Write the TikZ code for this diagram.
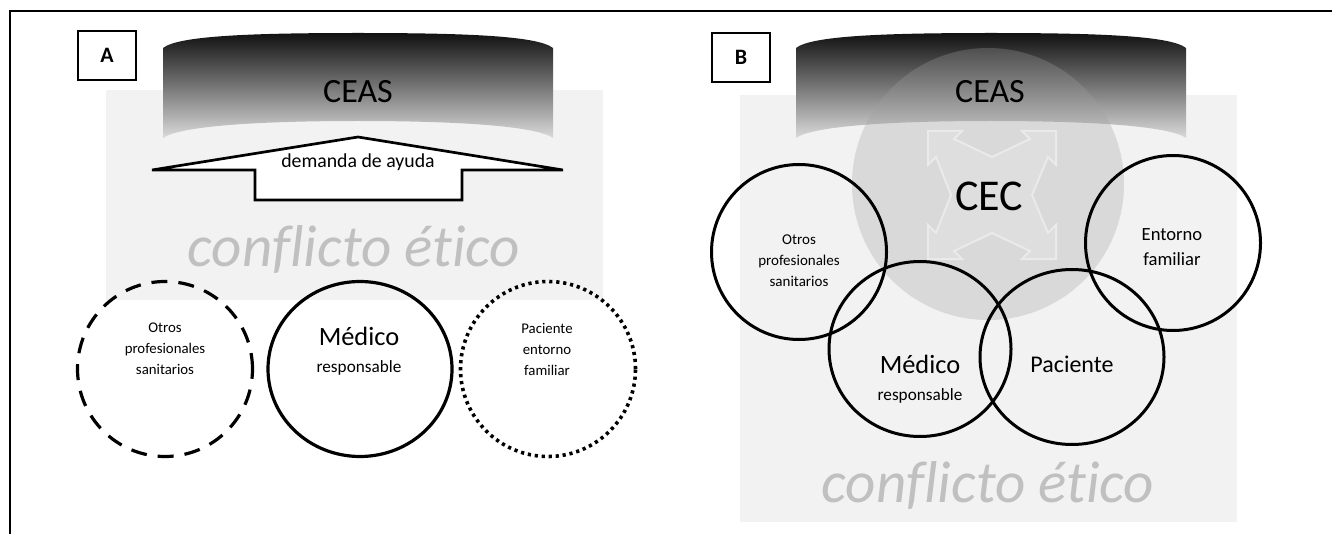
\documentclass[tikz,border=0pt]{standalone}
\usepackage{fontspec}
\setmainfont{Carlito}[Ligatures=NoCommon]
\usetikzlibrary{shapes.geometric}

\definecolor{rectgray}{HTML}{F2F2F2}
\definecolor{ethicgray}{HTML}{C0C0C0}
\definecolor{bandtop}{HTML}{111111}
\definecolor{bandmid}{HTML}{747474}
\definecolor{bandbot}{HTML}{DADADA}
\definecolor{cecgray}{HTML}{A0A0A0}
\definecolor{quadfill}{HTML}{DEDEDE}
\definecolor{quadline}{HTML}{EAEAEA}

\begin{document}
\begin{tikzpicture}[x=0.5pt,y=-0.5pt,
    ring/.style={ellipse,draw,line width=1.5pt,minimum width=87.5pt,minimum height=87.5pt,inner sep=0pt},
    widering/.style={ring,minimum width=92pt},
    panelbox/.style={draw,line width=0.85pt,minimum width=29pt,minimum height=24.5pt,inner sep=0pt,font=\fontsize{11}{13}\selectfont\bfseries},
    ceastxt/.style={font=\fontsize{17}{20}\selectfont},
    ethictxt/.style={anchor=base,text=ethicgray,font=\fontsize{29.5}{34}\selectfont\itshape},
    smalltxt/.style={align=center,font=\fontsize{7.4}{10.5}\selectfont},
    medtxt/.style={font=\fontsize{13.2}{15}\selectfont},
    subtxt/.style={font=\fontsize{8.6}{10}\selectfont}]
    \useasboundingbox (0,0) rectangle (1332,534);
    \draw[line width=0.75pt] (10,534) -- (10,11) -- (1332,11);

    % Background fields %
    \fill[rectgray] (106,90) rectangle (603,300);
    \fill[rectgray] (740,95) rectangle (1237,522);

    % CEAS banners %
    \foreach \cx in {358,991}{
        \shade[top color=bandtop,bottom color=bandbot,middle color=bandmid]
            (\cx-195,48) .. controls (\cx-180,36) and (\cx-110,33) .. (\cx,33)
            .. controls (\cx+110,33) and (\cx+180,36) .. (\cx+195,48) -- (\cx+195,138)
            .. controls (\cx+180,127) and (\cx+110,121) .. (\cx,121)
            .. controls (\cx-110,121) and (\cx-180,127) .. (\cx-195,138) -- cycle;
    }
    \node[panelbox] (boxA) at (107,55.5) {A};
    \node[panelbox] (boxB) at (741,57.5) {B};

    % Panel A %
    \node[ceastxt] (ceasA) at (358,92) {CEAS};
    \draw[line width=1.35pt,fill=white] (358,137) -- (563,170) -- (462,170) -- (462,200)
        -- (255,200) -- (255,170) -- (152,170) -- cycle;
    \node[font=\fontsize{9.9}{12}\selectfont] (demanda) at (358,162) {demanda de ayuda};
    \node[ethictxt] (conflA) at (354,266) {conflicto ético};

    \node[ring,line width=1.6pt,dash pattern=on 8pt off 5.5pt] (otrosA) at (165,369) {};
    \node[widering,line width=1.6pt] (medicoA) at (360,369) {};
    \node[ring,line width=1.8pt,dash pattern=on 1.6pt off 1.9pt] (pacienteA) at (548,369) {};
    \node[smalltxt] (otrosAtxt) at (165,349) {Otros\\profesionales\\sanitarios};
    \node[medtxt] (medicoAtxt) at (359,336) {Médico};
    \node[subtxt] (medicoAsub) at (359,368) {responsable};
    \node[smalltxt] (pacienteAtxt) at (547,349) {Paciente\\entorno\\familiar};

    % Panel B %
    \fill[cecgray,fill opacity=0.3] (988,184) circle[radius=136];
    \node[ceastxt] (ceasB) at (990,92) {CEAS};
    \begin{scope}[shift={(992,195)}]
        \draw[quadline,fill=quadfill,line width=1pt]
            (-64,-64) -- (-30,-64) -- (-38,-56) -- (0,-38) -- (38,-56) -- (30,-64) -- (64,-64)
            -- (64,-30) -- (56,-38) -- (40,0) -- (56,38) -- (64,30) -- (64,64)
            -- (30,64) -- (38,56) -- (0,38) -- (-38,56) -- (-30,64) -- (-64,64)
            -- (-64,30) -- (-56,38) -- (-41,0) -- (-56,-38) -- (-64,-30) -- cycle;
    \end{scope}
    \node[font=\fontsize{22}{26}\selectfont] (cec) at (989,196) {CEC};
    \node[ethictxt] (conflB) at (988,502) {conflicto ético};

    \node[ring] (otrosB) at (799,252) {};
    \node[widering,minimum width=91pt] (medicoB) at (920,349) {};
    \node[widering] (pacienteB) at (1072,357) {};
    \node[ring] (entornoB) at (1173,243) {};
    \node[smalltxt,font=\fontsize{7.5}{10.5}\selectfont] (otrosBtxt) at (799,261) {Otros\\profesionales\\sanitarios};
    \node[medtxt] (medicoBtxt) at (920,364) {Médico};
    \node[subtxt] (medicoBsub) at (920,396) {responsable};
    \node[font=\fontsize{12}{14}\selectfont] (pacienteBtxt) at (1072,364) {Paciente};
    \node[align=center,font=\fontsize{9.3}{12.5}\selectfont] (entornoBtxt) at (1172,247) {Entorno\\familiar};
\end{tikzpicture}
\end{document}
